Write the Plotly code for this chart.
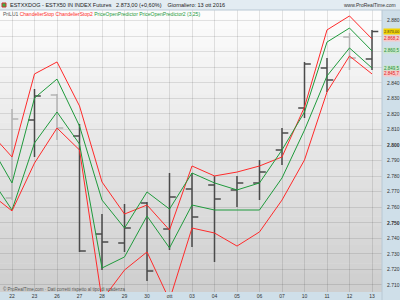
import plotly.graph_objects as go

# ---------------- data ----------------
labels = ["22", "23", "26", "27", "28", "29", "30", "ott", "03", "04", "05", "06", "07", "10", "11", "12", "13"]
open_ = [2765.9, 2816.1, 2832.2, 2805.8, 2742.8, 2737.0, 2762.7, 2746.0, 2771.7, 2774.3, 2771.1, 2775.6, 2796.8, 2823.8, 2849.5, 2869.5, 2855.3]
high = [2823.2, 2836.0, 2832.8, 2813.5, 2755.6, 2762.1, 2763.3, 2782.0, 2782.0, 2780.1, 2780.1, 2790.4, 2810.9, 2853.4, 2855.9, 2872.0, 2874.0]
low = [2764.6, 2792.3, 2803.2, 2731.2, 2719.6, 2731.2, 2712.5, 2732.5, 2734.4, 2724.8, 2760.1, 2764.6, 2787.1, 2817.4, 2834.1, 2848.2, 2848.2]
close = [2816.7, 2831.5, 2810.9, 2731.8, 2737.6, 2746.6, 2719.0, 2766.6, 2753.7, 2765.3, 2775.6, 2782.6, 2807.7, 2852.1, 2841.8, 2855.9, 2873.0]

# indicator lines start one bar before the first visible bar
line_x = list(range(-1, len(labels)))
chandelier_up = [2808.4, 2792.3, 2845.7, 2853.4, 2825.1, 2776.2, 2755.6, 2761.4, 2745.3, 2786.5, 2780.1, 2782.6, 2786.5, 2792.3, 2824.4, 2874.0, 2883.0, 2868.2]
predictor_up = [2800.9, 2775.6, 2830.2, 2842.4, 2812.2, 2764.6, 2746.6, 2769.8, 2758.8, 2782.0, 2775.6, 2771.1, 2775.6, 2796.8, 2821.2, 2866.2, 2875.2, 2860.5]
predictor_dn = [2779.9, 2758.2, 2801.3, 2821.2, 2800.6, 2720.9, 2728.0, 2754.3, 2733.8, 2761.4, 2758.2, 2758.2, 2758.2, 2778.8, 2809.6, 2844.4, 2862.4, 2849.5]
chandelier_dn = [2769.1, 2757.6, 2788.4, 2810.9, 2796.8, 2700.3, 2719.6, 2731.2, 2700.3, 2746.6, 2743.4, 2735.0, 2744.1, 2764.6, 2790.4, 2834.1, 2857.2, 2845.7]

y_ticks = list(range(2710, 2890, 10))
hidden_tick_labels = [2850, 2860, 2870]  # covered by the value tags
light_bars = [0, 2, 15]  # bars drawn in light grey

# ---------------- helpers ----------------
W, H = 400, 300
PLOT_R = 382 / W
Y_BOT = 1 - 292 / H
Y_TOP = 1 - 10 / H
FONT = "Liberation Sans, Arial, sans-serif"


def eu(v, dec):
    s = f"{v:,.{dec}f}"
    return s.replace(",", "X").replace(".", ",").replace("X", ".")


fig = go.Figure()

# OHLC bars in two tones
idx_all = list(range(len(labels)))
for group, col in (([i for i in idx_all if i not in light_bars], "#4a4a4a"),
                   (light_bars, "#b4b4b4")):
    fig.add_trace(go.Ohlc(
        x=group,
        open=[open_[i] for i in group], high=[high[i] for i in group],
        low=[low[i] for i in group], close=[close[i] for i in group],
        increasing=dict(line=dict(color=col, width=1.5)),
        decreasing=dict(line=dict(color=col, width=1.5)),
        tickwidth=0.28, showlegend=False, hoverinfo="skip"))

for ys, col in ((chandelier_up, "#ff2a2a"), (predictor_up, "#1f9a3c"),
                (predictor_dn, "#1f9a3c"), (chandelier_dn, "#ff2a2a")):
    fig.add_trace(go.Scatter(x=line_x, y=ys, mode="lines",
                             line=dict(color=col, width=1), showlegend=False,
                             hoverinfo="skip"))

shapes = []
# gradient background of plot area
n = 30
for k in range(n):
    t0 = k / n
    t1 = (k + 1) / n
    g = int(round(253 - (253 - 206) * (1 - (t0 + t1) / 2)))
    shapes.append(dict(type="rect", xref="paper", yref="paper", layer="below",
                       x0=0, x1=PLOT_R, y0=Y_BOT + (Y_TOP - Y_BOT) * t0,
                       y1=Y_BOT + (Y_TOP - Y_BOT) * t1 + 0.002,
                       fillcolor=f"rgb({g},{g},{g})", line=dict(width=0)))
# right axis panel
shapes.append(dict(type="rect", xref="paper", yref="paper", layer="below",
                   x0=PLOT_R, x1=1, y0=0, y1=Y_TOP, fillcolor="#cfdfe9",
                   line=dict(width=0)))
# bottom axis panel
shapes.append(dict(type="rect", xref="paper", yref="paper", layer="below",
                   x0=0, x1=1, y0=0, y1=Y_BOT, fillcolor="#cfdfe9",
                   line=dict(width=0)))
# header bar
shapes.append(dict(type="rect", xref="paper", yref="paper", layer="below",
                   x0=0, x1=1, y0=Y_TOP, y1=1, fillcolor="#e3ecf2",
                   line=dict(width=0)))
shapes.append(dict(type="line", xref="paper", yref="paper", layer="above",
                   x0=0, x1=1, y0=Y_TOP, y1=Y_TOP, line=dict(color="#b8c8d4", width=1)))
shapes.append(dict(type="line", xref="paper", yref="paper", layer="above",
                   x0=PLOT_R, x1=PLOT_R, y0=0, y1=Y_TOP, line=dict(color="#b8c8d4", width=1)))
# header icon
shapes.append(dict(type="rect", xref="paper", yref="paper", layer="above",
                   x0=2 / W, x1=6 / W, y0=1 - 7 / H, y1=1 - 3 / H,
                   fillcolor="#3cb043", line=dict(color="#d03030", width=1)))

annotations = []
pct = (close[-1] - close[-2]) / close[-2] * 100
annotations.append(dict(
    xref="paper", yref="paper", x=8 / W, y=1 - 5 / H, xanchor="left", yanchor="middle",
    showarrow=False, font=dict(size=5.5, color="#1a1a1a", family=FONT),
    text=f"ESTXXDOG - ESTX50 IN INDEX Futures &nbsp; {eu(close[-1], 2)} (+{eu(pct, 2)}%) &nbsp;&nbsp; Giornaliero: 13 ott 2016"))
annotations.append(dict(
    xref="paper", yref="paper", x=398 / W, y=1 - 5 / H, xanchor="right", yanchor="middle",
    showarrow=False, font=dict(size=5, color="#333", family=FONT),
    text="www.ProRealTime.com"))
annotations.append(dict(
    xref="paper", yref="paper", x=1 / W, y=1 - 14 / H, xanchor="left", yanchor="middle",
    showarrow=False, font=dict(size=5, family=FONT),
    text=("<span style='color:#555'>PriLU1</span> "
          "<span style='color:#ff2a2a'>ChandelierStop ChandelierStop2</span> "
          "<span style='color:#1f9a3c'>PriceOpenPredictor PriceOpenPredictor2 (3,25)</span>")))
annotations.append(dict(
    xref="paper", yref="paper", x=1 / W, y=1 - 289 / H, xanchor="left", yanchor="middle",
    showarrow=False, font=dict(size=4.5, color="#555", family=FONT),
    text="© ProRealTime.com · Dati corretti rispetto al tipo di scadenza"))

# value tags on the right axis
tags = [
    (close[-1], 2, "#f2d200", "#333", 3.9),
    (chandelier_up[-1], 1, "#f7c9c9", "#e02020", 4.5),
    (predictor_up[-1], 1, "#c9e8cc", "#1f8a36", 4.5),
    (predictor_dn[-1], 1, "#c9e8cc", "#1f8a36", 4.5),
    (chandelier_dn[-1], 1, "#f7c9c9", "#e02020", 4.5),
]
for v, dec, bg, fc, fs in tags:
    annotations.append(dict(
        xref="paper", yref="y", x=PLOT_R + 0.5 / W, y=v, xanchor="left", yanchor="middle",
        showarrow=False, bgcolor=bg, borderpad=0,
        font=dict(size=fs, color=fc, family=FONT), text=eu(v, dec)))

tick_text = []
for v in y_ticks:
    if v in hidden_tick_labels:
        tick_text.append("")
    elif v % 50 == 0:
        tick_text.append(f"<b>{eu(v, 0)}</b>")
    else:
        tick_text.append(eu(v, 0))

fig.update_layout(
    width=W, height=H, margin=dict(l=0, r=0, t=0, b=0),
    paper_bgcolor="#ffffff", plot_bgcolor="rgba(0,0,0,0)",
    shapes=shapes, annotations=annotations, showlegend=False,
    font=dict(family=FONT),
    xaxis=dict(domain=[0, PLOT_R], range=[-12 / 22.5, 370 / 22.5],
               tickmode="array", tickvals=idx_all, ticktext=labels,
               tickfont=dict(size=5, color="#333"), ticks="",
               showgrid=True, gridcolor="rgba(0,0,0,0.10)", gridwidth=1,
               zeroline=False, showline=False, rangeslider=dict(visible=False),
               fixedrange=True),
    yaxis=dict(domain=[Y_BOT, Y_TOP], side="right",
               range=[2800 + (145 - 292) / 1.555, 2800 + (145 - 10) / 1.555],
               tickmode="array", tickvals=y_ticks, ticktext=tick_text,
               tickfont=dict(size=5, color="#333"), ticks="",
               ticklabelstandoff=4,
               showgrid=True, gridcolor="rgba(0,0,0,0.10)", gridwidth=1,
               zeroline=False, showline=False, fixedrange=True),
)

fig.write_html("out.html")
